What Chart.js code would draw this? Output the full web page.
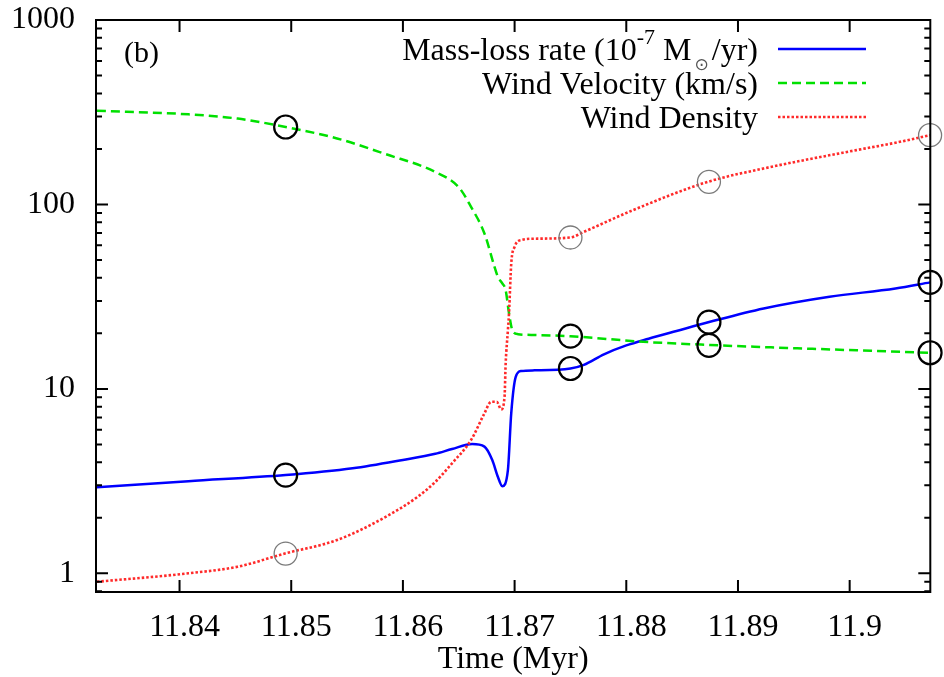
<!DOCTYPE html>
<html><head><meta charset="utf-8">
<script src="https://cdn.jsdelivr.net/npm/chart.js@4/dist/chart.umd.min.js"></script>
<style>html,body{margin:0;padding:0;background:#fff;}canvas{display:block;}</style>
</head><body>
<canvas id="c" width="944" height="677"></canvas>
<script>
// ---- data ----
const massTime = [11.8326, 11.8408, 11.8495, 11.8555, 11.8600, 11.8629, 11.8644, 11.8662, 11.8673, 11.8680, 11.8685, 11.8689, 11.8694, 11.8697, 11.8701, 11.8706, 11.8718, 11.8750, 11.8762, 11.8780, 11.8800, 11.8820, 11.8845, 11.8875, 11.8923, 11.8982, 11.9041, 11.9072];
const massRate = [2.93, 3.16, 3.41, 3.71, 4.12, 4.45, 4.72, 5.02, 4.86, 4.11, 3.34, 2.97, 3.63, 7.39, 11.6, 12.5, 12.6, 12.9, 13.5, 15.4, 17.2, 18.7, 20.6, 23.1, 27.3, 31.6, 35.0, 37.8];

const velTime = [11.8326, 11.8408, 11.8452, 11.8495, 11.8541, 11.8585, 11.8629, 11.8650, 11.8661, 11.8673, 11.8682, 11.8685, 11.8689, 11.8692, 11.8695, 11.8698, 11.8703, 11.8718, 11.8750, 11.8815, 11.8875, 11.8953, 11.9072];
const windVelocity = [322, 308, 292, 263, 228, 187, 150, 124, 97, 69.6, 45.9, 40.5, 37.3, 34.3, 25.7, 20.8, 19.8, 19.6, 19.3, 18.0, 17.3, 16.6, 15.7];

const densTime = [11.8326, 11.8408, 11.8452, 11.8495, 11.8541, 11.8585, 11.8614, 11.8629, 11.8644, 11.8661, 11.8673, 11.8679, 11.8684, 11.8688, 11.8691, 11.8692, 11.8694, 11.8695, 11.8697, 11.8700, 11.8706, 11.8718, 11.8750, 11.8762, 11.8806, 11.8873, 11.8923, 11.9006, 11.9041, 11.9072];
const windDensity = [0.90, 1.0, 1.086, 1.284, 1.515, 2.03, 2.62, 3.13, 3.95, 5.28, 7.37, 8.51, 8.51, 7.74, 9.05, 13.7, 20.8, 25.7, 47.9, 58.9, 64.1, 65.2, 66.2, 71.0, 93.1, 132.6, 156.7, 197, 216, 237.5];

const markerTime = [11.8495, 11.8750, 11.8874, 11.9072];
const markerMass = [3.41, 12.9, 23.0, 37.8];
const markerVel = [263, 19.3, 17.2, 15.7];
const markerDens = [1.28, 66.2, 132.6, 237.5];

const xTicks = [11.84, 11.85, 11.86, 11.87, 11.88, 11.89, 11.9];
const yTicks = [1, 10, 100, 1000];
const seriesLabels = ['Mass-loss rate (10-7 M⊙/yr)', 'Wind Velocity (km/s)', 'Wind Density'];
const panelLabel = '(b)';
const xTitle = 'Time (Myr)';
const xMin = 11.83252, xMax = 11.90722, yMin = 0.792, yMax = 1000;

// ---- styling ----
const SERIF = '"Liberation Serif", "Times New Roman", Times, serif';
const colors = ['#0000ff', '#00e000', '#ff2a2a'];
const dashes = [[], [9, 5], [2.5, 2]];
const widths = [2.5, 2.5, 2.6];

const pts = (xs, ys) => xs.map((x, i) => ({x: x, y: ys[i]}));
const noPad = s => { s.paddingTop = 0; s.paddingBottom = 0; s.paddingLeft = 0; s.paddingRight = 0; };

const framePlugin = {
  id: 'frame',
  afterDraw(chart) {
    const {ctx, chartArea: a, scales} = chart;
    const x = scales.x, y = scales.y;
    ctx.save();
    ctx.strokeStyle = '#000';
    ctx.lineWidth = 2;
    ctx.strokeRect(a.left, a.top, a.right - a.left, a.bottom - a.top);
    ctx.beginPath();
    xTicks.forEach(v => {
      const px = x.getPixelForValue(v);
      ctx.moveTo(px, a.bottom); ctx.lineTo(px, a.bottom - 12);
      ctx.moveTo(px, a.top); ctx.lineTo(px, a.top + 12);
    });
    for (let d = -1; d <= 3; d++) {
      for (let m = 1; m <= 9; m++) {
        const v = m * Math.pow(10, d);
        if (v < yMin || v > yMax) continue;
        const py = y.getPixelForValue(v);
        const L = m === 1 ? 12 : 6;
        ctx.moveTo(a.left, py); ctx.lineTo(a.left + L, py);
        ctx.moveTo(a.right, py); ctx.lineTo(a.right - L, py);
      }
    }
    ctx.stroke();

    // panel label
    ctx.fillStyle = '#000';
    ctx.font = '30px ' + SERIF;
    ctx.textAlign = 'left';
    ctx.textBaseline = 'alphabetic';
    ctx.fillText(panelLabel, 124, 62);

    // legend (text right-aligned, sample line to the right)
    const rightEdge = 758;
    const rows = [
      {parts: [
        {t: 'Mass-loss rate (10', s: 32, dy: 0},
        {t: '-7', s: 22, dy: -16},
        {t: ' M', s: 32, dy: 0},
        {t: '\u2299', s: 17, dy: 10, c: '#555', f: '"DejaVu Sans", sans-serif', pad: 3},
        {t: '/yr)', s: 32, dy: 0}
      ], base: 60, lineY: 49},
      {parts: [{t: seriesLabels[1], s: 32, dy: 0}], base: 94, lineY: 83},
      {parts: [{t: seriesLabels[2], s: 32, dy: 0}], base: 128, lineY: 117}
    ];
    rows.forEach((row, i) => {
      let total = 0;
      row.parts.forEach(p => {
        ctx.font = p.s + 'px ' + (p.f || SERIF);
        p.w = ctx.measureText(p.t).width + (p.pad || 0) * 2;
        total += p.w;
      });
      let cx = rightEdge - total;
      row.parts.forEach(p => {
        ctx.font = p.s + 'px ' + (p.f || SERIF);
        ctx.fillStyle = p.c || '#000';
        ctx.fillText(p.t, cx + (p.pad || 0), row.base + p.dy);
        cx += p.w;
      });
      ctx.beginPath();
      ctx.strokeStyle = colors[i];
      ctx.lineWidth = widths[i];
      ctx.setLineDash(dashes[i]);
      ctx.moveTo(778, row.lineY);
      ctx.lineTo(866, row.lineY);
      ctx.stroke();
      ctx.setLineDash([]);
    });
    ctx.restore();
  }
};

new Chart(document.getElementById('c'), {
  type: 'line',
  data: {
    datasets: [
      {label: seriesLabels[0], data: pts(massTime, massRate), borderColor: colors[0], borderWidth: widths[0], borderDash: dashes[0], pointRadius: 0, fill: false, cubicInterpolationMode: 'monotone', order: 4},
      {label: seriesLabels[1], data: pts(velTime, windVelocity), borderColor: colors[1], borderWidth: widths[1], borderDash: dashes[1], pointRadius: 0, fill: false, cubicInterpolationMode: 'monotone', order: 3},
      {label: seriesLabels[2], data: pts(densTime, windDensity), borderColor: colors[2], borderWidth: widths[2], borderDash: dashes[2], pointRadius: 0, fill: false, cubicInterpolationMode: 'monotone', order: 2},
      {type: 'scatter', label: 'markers', data: pts(markerTime, markerMass).concat(pts(markerTime, markerVel)), showLine: false, pointRadius: 11.5, pointBorderWidth: 2.2, pointBorderColor: '#000', pointBackgroundColor: 'rgba(0,0,0,0)', clip: false, order: 0},
      {type: 'scatter', label: 'markers2', data: pts(markerTime, markerDens), showLine: false, pointRadius: 11.5, pointBorderWidth: 1.3, pointBorderColor: '#7a7a7a', pointBackgroundColor: 'rgba(0,0,0,0)', clip: false, order: 1}
    ]
  },
  options: {
    responsive: false,
    devicePixelRatio: 1,
    animation: false,
    events: [],
    layout: {padding: {top: 20, right: 2, left: 0, bottom: 0}},
    plugins: {legend: {display: false}, tooltip: {enabled: false}},
    scales: {
      x: {
        type: 'linear', min: xMin, max: xMax,
        grid: {display: false}, border: {display: false},
        afterBuildTicks: s => { s.ticks = xTicks.map(v => ({value: v})); },
        afterFit: s => { s.height = 85; noPad(s); },
        ticks: {padding: 8, labelOffset: 5, color: '#000', font: {family: SERIF, size: 32}, maxRotation: 0, autoSkip: false, callback: v => String(v)},
        title: {display: true, text: xTitle, color: '#000', font: {family: SERIF, size: 32}, padding: {top: 0, bottom: -2}}
      },
      y: {
        type: 'logarithmic', min: yMin, max: yMax,
        grid: {display: false}, border: {display: false},
        afterBuildTicks: s => { s.ticks = yTicks.map(v => ({value: v})); },
        afterFit: s => { s.width = 96; noPad(s); },
        ticks: {padding: 13, color: '#000', font: {family: SERIF, size: 32}, autoSkip: false, callback: v => String(v)}
      }
    }
  },
  plugins: [framePlugin]
});
</script>
</body></html>
